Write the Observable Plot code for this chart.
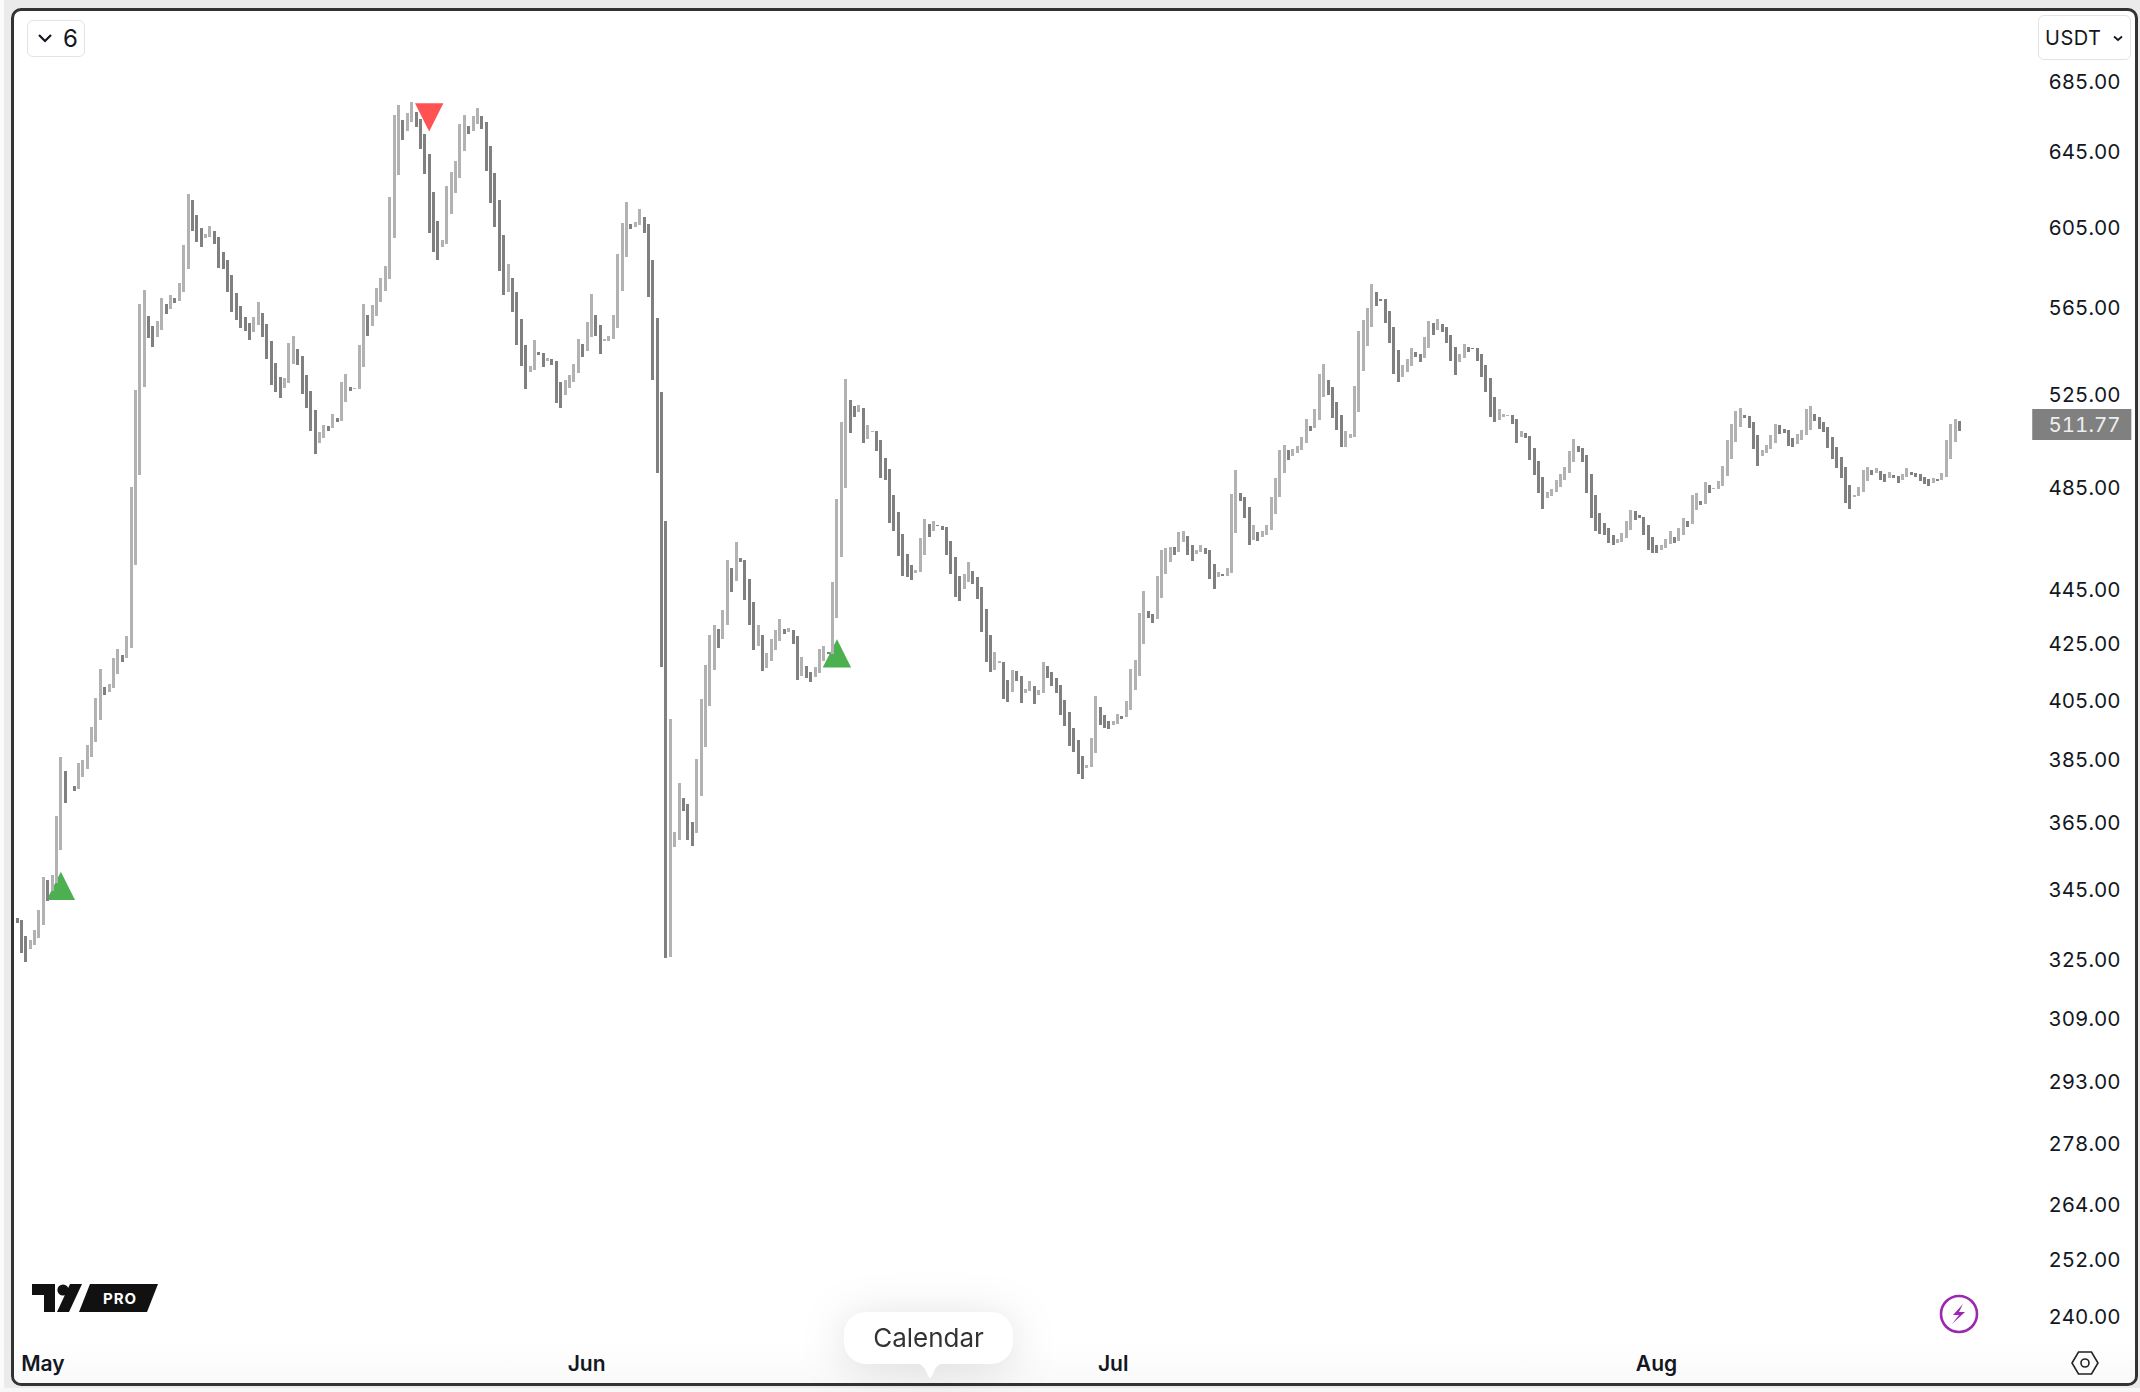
<!DOCTYPE html>
<html>
<head>
<meta charset="utf-8">
<script src="https://cdn.jsdelivr.net/npm/d3@7"></script>
<script src="https://cdn.jsdelivr.net/npm/@observablehq/plot@0.6"></script>
<style>
html,body{margin:0;padding:0;background:#ebebeb;}
#stage{position:relative;width:2140px;height:1392px;overflow:hidden;font-family:Inter,"Liberation Sans",sans-serif;color:#131722;}
#strip-left{position:absolute;left:0;top:0;width:4px;height:1392px;background:#fbfbfb;}
#strip-bottom{position:absolute;left:0;top:1388px;width:2140px;height:4px;background:#f7f7f7;}
#frame{position:absolute;left:11px;top:8px;width:2127px;height:1378px;box-sizing:border-box;border:3px solid #333;border-radius:10px;background:#fff;overflow:hidden;}
#fade{position:absolute;left:0;right:0;bottom:0;height:40px;background:linear-gradient(to bottom,rgba(247,247,247,0),rgba(247,247,247,.7));}
#chart{position:absolute;left:0;top:0;}
.btn{position:absolute;box-sizing:border-box;border:1px solid #e3e3e3;border-radius:6px;background:#fff;}
#btn6{left:27px;top:20px;width:58px;height:37px;font-size:24px;line-height:35px;}
#btn6 span{position:absolute;left:35px;top:0;}
#btn6 svg{position:absolute;left:9px;top:12px;}
#btnU{left:2038px;top:15px;width:93px;height:45px;font-size:20px;line-height:45px;}
#btnU span{position:absolute;left:6px;top:0;letter-spacing:.5px;}
#btnU svg{position:absolute;left:73px;top:18px;}
#tip{position:absolute;left:0;top:0;filter:drop-shadow(0 5px 22px rgba(0,0,0,.13));}
#pill{position:absolute;left:844px;top:1312px;width:169px;height:52px;background:#fff;border-radius:22px;font-size:26px;line-height:52px;text-align:center;color:#333;}
#tail{position:absolute;left:911px;top:1363px;}
#logo{position:absolute;left:32px;top:1284px;}
#bolt{position:absolute;left:1938px;top:1293px;}
#gear{position:absolute;left:2070px;top:1349px;}
</style>
</head>
<body>
<div id="stage">
  <div id="strip-left"></div>
  <div id="strip-bottom"></div>
  <div id="frame"><div id="fade"></div></div>
  <div id="chart"></div>
  <div class="btn" id="btn6">
    <svg width="18" height="12" viewBox="0 0 18 12"><path d="M2 2 L8 8 L14 2" fill="none" stroke="#131722" stroke-width="2.2"/></svg>
    <span>6</span>
  </div>
  <div class="btn" id="btnU">
    <span>USDT</span>
    <svg width="12" height="10" viewBox="0 0 12 10"><path d="M2 2.5 L6 6 L10 2.5" fill="none" stroke="#131722" stroke-width="1.8"/></svg>
  </div>
  <div id="tip">
    <svg id="tail" width="38" height="16" viewBox="0 0 38 16"><path d="M0 0 C9 0 12 2 15 8 C17 13 18 15 19 15 C20 15 21 13 23 8 C26 2 29 0 38 0 Z" fill="#fff"/></svg>
    <div id="pill">Calendar</div>
  </div>
  <svg id="logo" width="128" height="30" viewBox="0 0 128 30">
    <path d="M0 0 H23 V28 H12 V11 H0 Z" fill="#111"/>
    <circle cx="31" cy="6" r="5.6" fill="#111"/>
    <path d="M38 0 H50 L37 28 H25 Z" fill="#111"/>
    <path d="M58 0 H126 L115 28 H47 Z" fill="#111"/>
    <text x="71" y="20" font-family="Inter" font-size="15" font-weight="700" letter-spacing="1" fill="#fff">PRO</text>
  </svg>
  <svg id="bolt" width="42" height="42" viewBox="0 0 42 42">
    <circle cx="21" cy="21" r="18" fill="#fff" stroke="#9c27b0" stroke-width="2.6"/>
    <path d="M25 11 L15 22 H21 L14 31 L27 19 H21 Z" fill="#9c27b0"/>
  </svg>
  <svg id="gear" width="30" height="28" viewBox="0 0 30 28">
    <path d="M8.5 3 H21.5 L28 14 L21.5 25 H8.5 L2 14 Z" fill="none" stroke="#222" stroke-width="1.6"/>
    <circle cx="15" cy="14" r="4" fill="none" stroke="#222" stroke-width="1.6"/>
  </svg>
</div>
<script>
const highs = [
336.6,335.9,331.3,330.2,333.0,338.7,348.4,347.5,349.0,366.9,
385.8,381.2,376.5,376.4,383.8,384.8,389.7,395.7,405.6,415.7,
409.3,410.4,419.6,422.8,420.7,427.5,485.2,526.8,566.7,573.4,
561.0,556.2,558.5,569.6,566.7,571.0,569.6,577.0,595.7,622.1,
618.9,611.1,604.4,601.4,605.4,602.9,599.8,592.2,588.2,580.7,
571.9,565.7,560.4,557.6,560.4,567.6,562.4,557.1,549.1,538.9,
532.5,532.1,548.2,551.5,545.4,542.1,533.5,526.4,517.9,508.3,
511.4,510.9,516.1,514.4,530.3,534.0,528.1,527.7,547.2,566.7,
561.4,566.2,574.4,579.3,585.2,620.5,665.3,670.9,662.5,666.4,
672.6,666.9,663.1,654.6,643.6,623.2,608.0,598.3,626.4,633.9,
639.8,660.2,665.3,659.1,664.7,669.2,664.7,661.4,648.0,633.4,
618.9,600.9,586.2,579.3,572.4,559.5,547.2,537.6,549.6,544.0,
543.5,541.2,540.8,539.8,530.3,531.2,533.5,538.5,550.1,547.7,
558.1,571.5,561.4,556.6,550.1,551.5,561.4,591.2,606.9,617.9,
606.4,607.5,614.2,610.1,606.4,588.2,560.0,525.9,471.4,398.4,
362.0,377.3,372.5,370.7,365.1,385.1,405.2,417.1,427.8,431.5,
430.1,437.0,456.0,452.9,463.0,456.8,456.0,448.7,440.0,431.5,
427.8,421.3,426.4,429.7,433.7,430.1,430.4,429.7,427.5,419.9,
416.7,414.6,416.4,422.8,423.9,421.7,447.5,480.2,512.6,531.7,
522.3,519.6,520.1,518.8,511.4,508.8,508.8,504.9,497.2,492.6,
481.9,475.0,466.2,458.3,454.1,452.1,464.6,472.2,470.2,471.4,
469.8,469.4,469.0,463.4,457.2,449.8,450.6,455.2,451.7,449.4,
445.6,437.4,427.8,421.7,418.5,418.2,411.8,415.3,415.0,413.2,
408.7,411.5,409.7,408.3,418.2,416.7,414.6,412.5,410.0,404.9,
400.8,395.4,391.4,386.1,383.1,392.1,406.3,402.5,399.8,397.8,
397.8,400.1,399.5,404.6,415.7,418.9,435.9,444.1,436.6,435.5,
449.8,459.8,460.6,461.0,461.0,467.0,467.4,465.4,461.8,459.8,
461.8,460.6,459.8,454.5,451.3,450.6,452.9,482.4,492.2,482.8,
481.1,477.0,469.8,467.0,467.4,469.8,481.1,488.9,500.6,502.7,
500.6,501.0,502.3,506.2,513.9,510.9,518.3,534.0,538.5,531.2,
528.1,521.4,515.7,508.8,507.5,528.6,553.8,559.0,564.8,576.3,
572.4,569.1,569.1,563.3,555.7,544.9,538.0,540.8,545.9,544.0,
543.1,551.0,558.5,557.6,559.5,557.1,555.7,551.9,546.3,543.1,
547.7,546.3,545.9,545.9,543.1,538.0,532.1,523.6,518.3,516.1,
515.7,515.7,513.9,508.8,507.9,506.6,501.4,496.0,489.3,483.2,
484.4,488.1,490.6,493.4,500.2,505.3,502.3,501.4,498.5,490.6,
481.9,474.6,470.6,468.6,465.8,464.2,466.6,471.4,475.8,475.4,
473.8,473.0,469.8,465.0,461.8,461.8,464.2,467.4,465.0,468.6,
472.6,471.4,481.9,482.8,479.4,487.3,485.9,484.8,487.7,493.9,
504.9,511.8,517.5,518.8,515.7,515.3,512.6,507.0,500.6,502.7,
507.0,511.8,511.4,509.6,509.2,505.8,507.5,509.2,518.3,519.6,
516.1,514.8,512.6,510.5,506.2,501.9,497.6,493.4,485.9,481.9,
485.2,492.2,493.4,492.2,493.0,491.8,490.6,491.4,490.1,489.7,
490.6,493.0,491.4,491.0,490.6,489.3,488.5,488.9,488.5,491.0,
504.9,511.8,513.9,513.1
];
const lows = [
335.1,326.7,324.2,327.8,328.9,330.8,334.6,341.4,344.4,346.7,
356.6,371.1,376.2,374.9,375.5,379.3,381.9,385.8,390.8,398.2,
406.7,407.7,409.1,414.0,418.3,419.4,423.2,453.9,490.1,528.1,
550.7,546.4,551.1,554.4,562.0,564.4,567.3,568.3,572.6,583.9,
603.1,597.4,594.9,599.5,600.0,596.4,584.4,583.9,572.6,563.0,
559.1,555.4,554.0,549.7,553.5,556.8,551.1,540.9,528.8,525.9,
523.3,527.8,530.0,538.6,538.1,524.9,518.9,508.9,498.8,503.6,
505.9,508.5,509.8,512.8,513.2,521.5,526.5,527.2,527.4,537.3,
551.6,556.3,561.1,567.8,573.1,578.9,599.5,632.2,651.5,656.5,
661.5,658.4,646.5,632.8,602.0,592.3,588.3,594.9,596.4,611.4,
622.4,630.8,645.4,654.8,656.5,660.4,657.1,634.6,617.5,604.9,
582.9,570.9,572.6,563.0,547.3,537.6,527.4,534.9,535.8,542.6,
537.1,539.8,538.1,521.0,518.8,524.6,527.7,530.3,534.4,541.7,
544.4,551.0,551.5,543.0,549.1,549.1,550.1,555.2,572.9,589.7,
603.9,604.9,605.9,601.9,570.0,531.2,491.0,416.4,325.3,325.6,
357.5,359.6,368.6,359.6,357.8,361.5,373.3,389.1,402.9,415.4,
423.2,426.5,431.6,443.9,448.0,455.3,440.8,431.6,422.5,424.0,
415.1,416.1,418.6,422.5,425.8,428.3,429.1,424.7,411.9,413.3,
412.6,411.2,413.0,414.4,418.6,421.1,421.1,434.1,457.2,484.8,
507.9,514.8,517.0,503.6,505.3,508.3,500.2,488.9,488.1,470.6,
467.4,457.6,449.9,449.6,448.4,451.1,451.5,458.0,465.1,467.5,
469.5,467.9,458.0,450.7,441.9,440.4,445.0,447.7,446.9,441.2,
429.1,418.3,414.7,415.4,417.9,405.3,404.3,407.7,411.6,404.0,
407.4,408.1,403.6,406.7,407.4,412.6,409.8,407.4,399.9,396.1,
389.5,387.5,380.3,378.7,382.3,382.6,387.1,396.5,395.5,395.1,
396.2,396.8,398.5,398.9,401.6,408.4,413.3,424.7,434.2,432.3,
433.8,441.6,450.7,455.3,458.0,459.1,463.1,458.0,455.7,458.4,
459.1,458.4,448.8,445.0,449.6,449.9,449.9,451.1,466.7,479.5,
472.7,461.9,463.9,463.5,465.1,465.9,467.9,474.3,481.1,490.7,
496.5,498.2,499.5,500.7,503.4,508.5,509.8,513.6,523.8,524.7,
514.5,509.3,502.0,502.0,505.5,506.3,517.2,535.5,546.9,555.6,
565.9,568.3,557.7,548.1,534.1,530.4,532.7,535.0,537.7,541.8,
539.5,541.3,546.0,552.1,554.4,553.5,548.3,540.0,533.7,539.5,
541.3,544.1,545.5,540.0,532.7,526.0,514.8,512.8,513.6,515.0,
515.4,511.9,503.4,506.3,505.5,496.5,490.2,482.5,476.3,480.4,
481.5,482.9,485.3,487.8,490.7,495.3,499.9,495.3,482.5,472.7,
467.5,466.3,465.9,462.7,461.9,462.7,463.1,464.7,467.9,471.5,
472.3,465.9,459.9,458.7,458.7,459.9,460.7,462.3,462.7,463.5,
465.9,469.1,470.1,475.8,477.8,478.2,482.8,484.4,484.4,485.6,
489.7,496.8,504.0,510.5,514.4,510.1,501.0,493.9,498.1,499.3,
501.0,503.6,507.5,507.9,502.3,501.9,503.2,504.9,507.0,509.2,
513.1,509.6,508.3,501.4,496.8,493.0,488.9,478.6,476.2,481.1,
481.5,483.2,487.7,490.1,491.0,488.1,487.3,488.9,488.9,486.9,
488.1,489.3,490.1,489.3,487.7,486.4,485.6,486.9,487.7,488.1,
489.3,496.8,504.0,508.8
];
const directions = (
"ddduuuuduu"+"uddduuuuuu"+"duuuduuuuu"+"dduududuuu"+"ddduuddddd"+
"dddduudddd"+"duuudddddu"+"ududuuduuu"+"duuuuuuudu"+"udddddduuu"+
"uuuduudddd"+"ddudddduud"+"duddduuuud"+"uudduuuuuu"+"duuddddddu"+
"uuddduuuuu"+"duududdddu"+"duuuududdu"+"dduuuduuuu"+"dduduudddd"+
"ddddduuudu"+"dddddduudd"+"ddduuddudd"+"uuduuddddd"+"dddduuuddd"+
"uuduuuuudd"+"uuuuduuddu"+"uddduduuud"+"ddud"+"uuuuuu"+"duuuuduuud"+
"ddduuuuuuu"+"dddddduuud"+"duududdddu"+"uddddddduu"+"uddudddddu"+
"uuuuuudddd"+"ddddduuuud"+"ddddduuudu"+"uduududuuu"+"uuuuddddu"+"u"+
"uudddd"+"uuuu"+"ddddddddd"+"u"+"uuududdudd"+"uuddddd"+"udu"+"uuud"
).split("");

const priceTicks = [685,645,605,565,525,485,445,425,405,385,365,345,325,309,293,278,264,252,240];
const monthTicks = [6.9,130.9,251,374.9];
const monthLabels = ["May","Jun","Jul","Aug"];
const lastPrice = [511.77];
const upSignals = [{bar:11,price:345.9},{bar:188,price:421.4}];
const downSignals = [{bar:95,price:664.2}];

const bars = highs.map((h,i)=>({bar:i+1,high:h,low:lows[i],dir:directions[i]}));
const triUp = {draw(c,s){const r=Math.sqrt(s/Math.PI);c.moveTo(0,-r);c.lineTo(r,r);c.lineTo(-r,r);c.closePath();}};
const triDown = {draw(c,s){const r=Math.sqrt(s/Math.PI);c.moveTo(0,r);c.lineTo(r,-r);c.lineTo(-r,-r);c.closePath();}};
const font = 'Inter,"Liberation Sans",sans-serif';
const priceStyle = "letter-spacing:1.5px";

const plot = Plot.plot({
  width:2140,height:1392,
  marginTop:0,marginLeft:0,marginRight:20,marginBottom:36.5,
  style:{background:"transparent",fontFamily:font,fontSize:"21px",overflow:"visible"},
  x:{type:"linear",domain:[1,444],range:[16.5,1959]},
  y:{type:"log",domain:[240,685],range:[1316,80.5]},
  marks:[
    Plot.dot(upSignals,{x:"bar",y:"price",r:14.2,symbol:triUp,fill:"#4caf50",stroke:null}),
    Plot.dot(downSignals,{x:"bar",y:"price",r:14.2,symbol:triDown,fill:"#ff5252",stroke:null}),
    Plot.ruleX(bars,{x:"bar",y1:"low",y2:"high",strokeWidth:3,strokeOpacity:1,shapeRendering:"crispEdges",
      stroke:d=>d.dir==="u"?"#b2b2b2":"#808080"}),
    Plot.axisY({anchor:"right",ticks:priceTicks,tickFormat:d=>d.toFixed(2),tickSize:0,tickPadding:0,label:null,
      textAnchor:"end",fill:"#131722",dy:1,fontSize:20.5,fontVariant:"tabular-nums",style:priceStyle}),
    Plot.ruleY(lastPrice,{x1:460.7,x2:483.3,y:d=>d,stroke:"#808080",strokeWidth:31}),
    Plot.text(lastPrice,{y:d=>d,frameAnchor:"right",text:d=>d.toFixed(2),textAnchor:"end",dy:1,fill:"#eeeeee",fontSize:20.5,fontVariant:"tabular-nums",style:priceStyle}),
    Plot.axisX({anchor:"bottom",ticks:monthTicks,tickFormat:(d,i)=>monthLabels[i],tickSize:0,tickPadding:0,label:null,
      fill:"#131722",fontWeight:600,fontSize:21})
  ]
});
document.getElementById("chart").appendChild(plot);
console.log(highs.length,lows.length,directions.length);
</script>
</body>
</html>
